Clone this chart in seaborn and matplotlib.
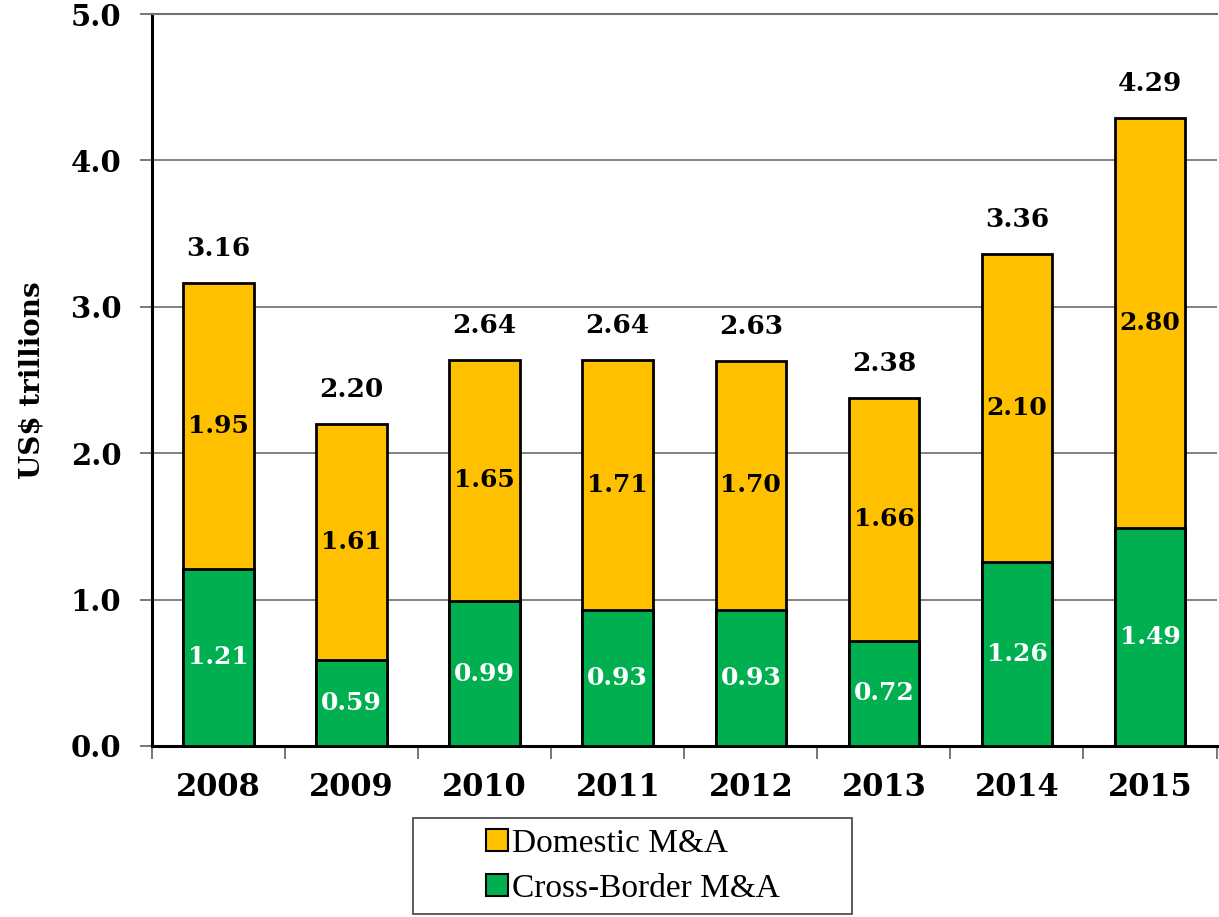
import numpy as np
import pandas as pd
import matplotlib
matplotlib.use("Agg")
import matplotlib.pyplot as plt
import seaborn as sns
from matplotlib.patches import Rectangle, Patch

years = ["2008", "2009", "2010", "2011", "2012", "2013", "2014", "2015"]
cross_border = [1.21, 0.59, 0.99, 0.93, 0.93, 0.72, 1.26, 1.49]
domestic = [1.95, 1.61, 1.65, 1.71, 1.70, 1.66, 2.10, 2.80]

gold = "#FFC000"
green = "#00B050"

df = pd.DataFrame({"Year": years, "Cross": cross_border, "Domestic": domestic})
df["Total"] = df["Cross"] + df["Domestic"]

sns.set_style("white")
plt.rcParams["font.family"] = ["DejaVu Serif"]
plt.rcParams["font.weight"] = "bold"
plt.rcParams["text.color"] = "black"
plt.rcParams["axes.labelcolor"] = "black"

fig = plt.figure(figsize=(12.19, 9.17), dpi=100)
ax = fig.add_axes([0.1247, 0.1865, 0.8733, 0.7982])

# stacked: total bar in gold, cross-border drawn on top in green
sns.barplot(data=df, x="Year", y="Total", color=gold, width=0.53,
            edgecolor="black", linewidth=2, saturation=1, ax=ax, zorder=3)
sns.barplot(data=df, x="Year", y="Cross", color=green, width=0.53,
            edgecolor="black", linewidth=2, saturation=1, ax=ax, zorder=4)

for i, row in df.iterrows():
    ax.text(i, row["Cross"] / 2, f"{row['Cross']:.2f}", ha="center", va="center",
            color="white", fontsize=18, fontweight="bold", zorder=5)
    ax.text(i, row["Cross"] + row["Domestic"] / 2, f"{row['Domestic']:.2f}",
            ha="center", va="center", color="black", fontsize=18,
            fontweight="bold", zorder=5)
    ax.text(i, row["Total"] + 0.15, f"{row['Total']:.2f}", ha="center",
            va="bottom", color="black", fontsize=19, fontweight="bold", zorder=5)

ax.set_ylim(0, 5)
ax.set_xlim(-0.5, 7.5)
ax.set_yticks(np.arange(0, 5.1, 1.0))
ax.set_yticklabels([f"{v:.1f}" for v in np.arange(0, 5.1, 1.0)],
                   fontsize=21, fontweight="bold")
ax.set_xticks(range(len(years)))
ax.set_xticklabels(years, fontsize=22, fontweight="bold")
ax.set_xticks(np.arange(-0.5, 8.0, 1.0), minor=True)
ax.tick_params(axis="x", which="major", length=0, pad=19, labelcolor="black")
ax.tick_params(axis="x", which="minor", length=9, width=1.2, color="#606060",
               direction="out", bottom=True)
ax.tick_params(axis="y", length=9, width=1.2, color="#606060", direction="out",
               left=True, pad=13, labelcolor="black")
ax.set_xlabel("")
ax.set_ylabel("US$ trillions", fontsize=20, fontweight="bold", labelpad=18,
              color="black")

ax.yaxis.grid(True, color="#606060", linewidth=1.1, zorder=0)
ax.set_axisbelow(True)

for s in ["left", "bottom"]:
    ax.spines[s].set_color("black")
    ax.spines[s].set_linewidth(2.2)
ax.spines["top"].set_color("#707070")
ax.spines["top"].set_linewidth(1.5)
ax.spines["right"].set_visible(False)

# legend with its own frame
fig.patches.append(Rectangle((413 / 1219, 1 - 914 / 917), 439 / 1219, 96 / 917,
                             transform=fig.transFigure, fill=False,
                             edgecolor="#404040", linewidth=1.2))
handles = [Patch(facecolor=gold, edgecolor="black", linewidth=1.5, label="Domestic M&A"),
           Patch(facecolor=green, edgecolor="black", linewidth=1.5, label="Cross-Border M&A")]
fig.legend(handles=handles, loc="center", bbox_to_anchor=(633 / 1219, 1 - 866 / 917),
           frameon=False, handlelength=0.65, handleheight=0.65, handletextpad=0.12,
           labelspacing=0.45, labelcolor="black",
           prop={"family": "Liberation Serif", "size": 24, "weight": "normal"})

fig.savefig("out.png", dpi=100)
